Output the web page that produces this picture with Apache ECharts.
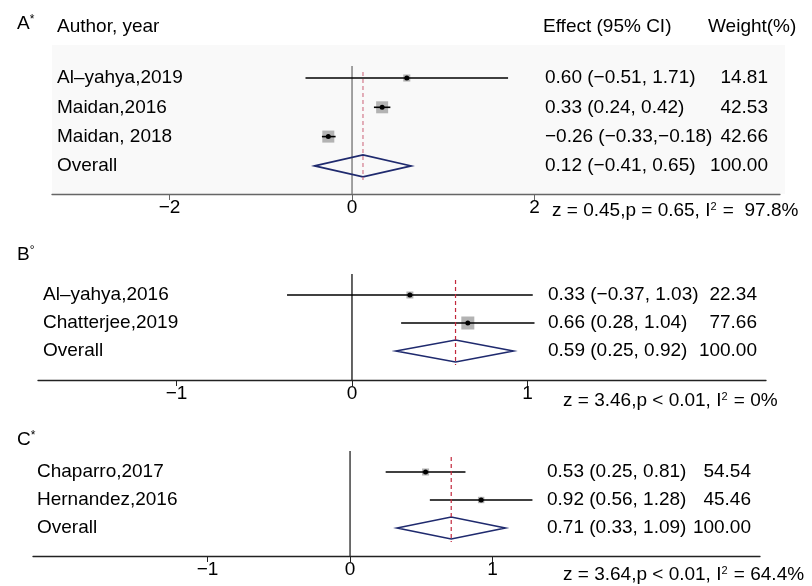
<!DOCTYPE html>
<html>
<head>
<meta charset="utf-8">
<script src="https://cdn.jsdelivr.net/npm/echarts@6/dist/echarts.min.js"></script>
<style>
  html, body { margin: 0; padding: 0; background: #fff; }
  #chart { width: 812px; height: 586px; }
</style>
</head>
<body>
<div id="chart"></div>
<script>
var FONT = 'Liberation Sans, Arial, Helvetica, sans-serif';

// ---- data, panel A
var authorsA = ['Al\u2013yahya,2019', 'Maidan,2016', 'Maidan, 2018'];
var effectA = [0.60, 0.33, -0.26];
var lowerA = [-0.51, 0.24, -0.33];
var upperA = [1.71, 0.42, -0.18];
var weightA = [14.81, 42.53, 42.66];
var overallA = [0.12, -0.41, 0.65];   // effect, lower, upper
var ticksA = [-2, 0, 2];

// ---- data, panel B
var authorsB = ['Al\u2013yahya,2016', 'Chatterjee,2019'];
var effectB = [0.33, 0.66];
var lowerB = [-0.37, 0.28];
var upperB = [1.03, 1.04];
var weightB = [22.34, 77.66];
var overallB = [0.59, 0.25, 0.92];
var ticksB = [-1, 0, 1];

// ---- data, panel C
var authorsC = ['Chaparro,2017', 'Hernandez,2016'];
var effectC = [0.53, 0.92];
var lowerC = [0.25, 0.56];
var upperC = [0.81, 1.28];
var weightC = [54.54, 45.46];
var overallC = [0.71, 0.33, 1.09];
var ticksC = [-1, 0, 1];

// heterogeneity lines under each panel
var panelTags = ['A', 'B', 'C'];
var panelMarks = ['*', '\u00b0', '*'];
var statZ = ['0.45', '3.46', '3.64'];
var statP = ['= 0.65', '< 0.01', '< 0.01'];
var statI2 = ['  97.8%', ' 0%', ' 64.4%'];

var panels = [
  { authors: authorsA, eff: effectA, lo: lowerA, hi: upperA, w: weightA, ov: overallA, ticks: ticksA },
  { authors: authorsB, eff: effectB, lo: lowerB, hi: upperB, w: weightB, ov: overallB, ticks: ticksB },
  { authors: authorsC, eff: effectC, lo: lowerC, hi: upperC, w: weightC, ov: overallC, ticks: ticksC }
];

// ---- layout (pixels / styling)
var layout = [
  { grid: { left: 52, top: 66, width: 728, height: 128 }, xmin: -3.288, xmax: 4.69, ymin: -0.41, ymax: 3.96,
    nameX: 57, effX: 545, wRight: 768, box: 1.84, axisColor: '#666', zeroColor: '#7a7a7a', dashColor: '#d27a8c',
    tagY: 25, statX: 552, statY: 212 },
  { grid: { left: 38, top: 274, width: 728, height: 106 }, xmin: -1.789, xmax: 2.359, ymin: -0.75, ymax: 3.036,
    nameX: 43, effX: 548, wRight: 757, box: 1.475, axisColor: '#222', zeroColor: '#222', dashColor: '#c2283c',
    tagY: 256, statX: 563, statY: 402 },
  { grid: { left: 33, top: 451, width: 727, height: 105 }, xmin: -2.225, xmax: 2.877, ymin: -0.75, ymax: 3.0,
    nameX: 37, effX: 547, wRight: 751, box: 0.95, axisColor: '#222', zeroColor: '#333', dashColor: '#c2283c',
    tagY: 441, statX: 563, statY: 576 }
];

function num(v) {
  return (v < 0 ? '\u2212' : '') + Math.abs(v).toFixed(2);
}
function ciText(e, lo, hi) {
  return num(e) + ' (' + num(lo) + ',' + (hi < 0 ? '' : ' ') + num(hi) + ')';
}

var grids = [], xAxes = [], yAxes = [], series = [], graphics = [];

panels.forEach(function (p, k) {
  var L = layout[k];
  grids.push(L.grid);
  xAxes.push({
    type: 'value', gridIndex: k, min: L.xmin, max: L.xmax, position: 'bottom',
    axisLine: { show: true, onZero: false, lineStyle: { color: L.axisColor, width: 1.3 } },
    axisTick: { show: true, customValues: p.ticks, length: 6, lineStyle: { color: L.axisColor } },
    axisLabel: {
      customValues: p.ticks, margin: 4, fontSize: 19, fontFamily: FONT, color: '#000',
      formatter: function (v) { return v < 0 ? '\u2212' + Math.abs(v) : String(v); }
    },
    splitLine: { show: false }
  });
  yAxes.push({
    type: 'value', gridIndex: k, inverse: true, min: L.ymin, max: L.ymax, show: false
  });

  var nRows = p.authors.length;
  var ovRow = nRows;

  // zero reference line
  series.push({
    type: 'custom', xAxisIndex: k, yAxisIndex: k, z: 1, silent: true,
    data: [[0]],
    renderItem: function (params, api) {
      var a = api.coord([0, L.ymin]), b = api.coord([0, L.ymax]);
      return { type: 'line', shape: { x1: a[0], y1: a[1], x2: b[0], y2: b[1] },
        style: { stroke: L.zeroColor, lineWidth: 1.4 } };
    }
  });

  // studies: CI line, weight box, point
  var studyData = p.eff.map(function (e, i) { return [i, e, p.lo[i], p.hi[i], p.w[i]]; });
  series.push({
    type: 'custom', xAxisIndex: k, yAxisIndex: k, z: 3, silent: true,
    data: studyData,
    renderItem: function (params, api) {
      var i = api.value(0), e = api.value(1), lo = api.value(2), hi = api.value(3), w = api.value(4);
      var a = api.coord([lo, i]), b = api.coord([hi, i]), c = api.coord([e, i]);
      var s = L.box * Math.sqrt(w);
      return { type: 'group', children: [
        { type: 'rect', shape: { x: c[0] - s / 2, y: c[1] - s / 2, width: s, height: s }, style: { fill: '#b3b3b3' } },
        { type: 'line', shape: { x1: a[0], y1: a[1], x2: b[0], y2: b[1] }, style: { stroke: '#000', lineWidth: 1.6 } },
        { type: 'circle', shape: { cx: c[0], cy: c[1], r: 2.5 }, style: { fill: '#000' } }
      ] };
    }
  });

  // overall diamond
  series.push({
    type: 'custom', xAxisIndex: k, yAxisIndex: k, z: 3, silent: true,
    data: [[ovRow, p.ov[0], p.ov[1], p.ov[2]]],
    renderItem: function (params, api) {
      var r = api.value(0), e = api.value(1), lo = api.value(2), hi = api.value(3);
      var a = api.coord([lo, r]), b = api.coord([hi, r]), c = api.coord([e, r]);
      var h = 11;
      return { type: 'polygon',
        shape: { points: [[a[0], c[1]], [c[0], c[1] - h], [b[0], c[1]], [c[0], c[1] + h]] },
        style: { fill: 'none', stroke: '#1f2a6e', lineWidth: 1.6 } };
    }
  });

  // overall effect dashed line
  series.push({
    type: 'custom', xAxisIndex: k, yAxisIndex: k, z: 4, silent: true,
    data: [[p.ov[0], ovRow]],
    renderItem: function (params, api) {
      var a = api.coord([api.value(0), L.ymin]), b = api.coord([api.value(0), api.value(1)]);
      return { type: 'line', shape: { x1: a[0], y1: a[1] + 6, x2: b[0], y2: b[1] + 14 },
        style: { stroke: L.dashColor, lineWidth: 1.2, lineDash: [4, 3] } };
    }
  });

  // row texts
  var rowNames = p.authors.concat(['Overall']);
  var rowCI = p.eff.map(function (e, i) { return ciText(e, p.lo[i], p.hi[i]); })
    .concat([ciText(p.ov[0], p.ov[1], p.ov[2])]);
  var rowW = p.w.map(function (w) { return w.toFixed(2); }).concat(['100.00']);
  series.push({
    type: 'custom', xAxisIndex: k, yAxisIndex: k, z: 5, silent: true, clip: false,
    data: rowNames.map(function (n, i) { return [0, i]; }),
    renderItem: function (params, api) {
      var i = params.dataIndex;
      var y = api.coord([0, api.value(1)])[1];
      var st = { font: '19px ' + FONT, fill: '#000', textVerticalAlign: 'middle' };
      return { type: 'group', children: [
        { type: 'text', x: L.nameX, y: y, style: Object.assign({ text: rowNames[i], textAlign: 'left' }, st) },
        { type: 'text', x: L.effX, y: y, style: Object.assign({ text: rowCI[i], textAlign: 'left' }, st) },
        { type: 'text', x: L.wRight, y: y, style: Object.assign({ text: rowW[i], textAlign: 'right' }, st) }
      ] };
    }
  });

  // panel tag and stats line
  graphics.push({
    type: 'text', left: 17, top: L.tagY - 11, z: 10,
    style: { text: panelTags[k] + '{s|' + panelMarks[k] + '}', font: '19px ' + FONT, fill: '#000',
      rich: { s: { fontSize: 12, verticalAlign: 'top', padding: [0, 0, 8, 0], fontFamily: FONT } } }
  });
  graphics.push({
    type: 'text', left: L.statX, top: L.statY - 11, z: 10,
    style: { text: 'z = ' + statZ[k] + ',p ' + statP[k] + ', I{s|2} =' + statI2[k], font: '19px ' + FONT, fill: '#000',
      rich: { s: { fontSize: 11, padding: [0, 1, 8, 0], fontFamily: FONT } } }
  });
});

// panel A header row and background
graphics.push({ type: 'rect', shape: { x: 52, y: 45, width: 733, height: 149 }, style: { fill: '#f9f9f9' }, z: -10 });
graphics.push({ type: 'text', left: 57, top: 28 - 11, z: 10, style: { text: 'Author, year', font: '19px ' + FONT, fill: '#000' } });
graphics.push({ type: 'text', left: 543, top: 28 - 11, z: 10, style: { text: 'Effect (95% CI)', font: '19px ' + FONT, fill: '#000' } });
graphics.push({ type: 'text', left: 708, top: 28 - 11, z: 10, style: { text: 'Weight(%)', font: '19px ' + FONT, fill: '#000' } });

var chart = echarts.init(document.getElementById('chart'));
chart.setOption({
  animation: false,
  backgroundColor: '#fff',
  grid: grids,
  xAxis: xAxes,
  yAxis: yAxes,
  series: series,
  graphic: graphics
});
</script>
</body>
</html>
